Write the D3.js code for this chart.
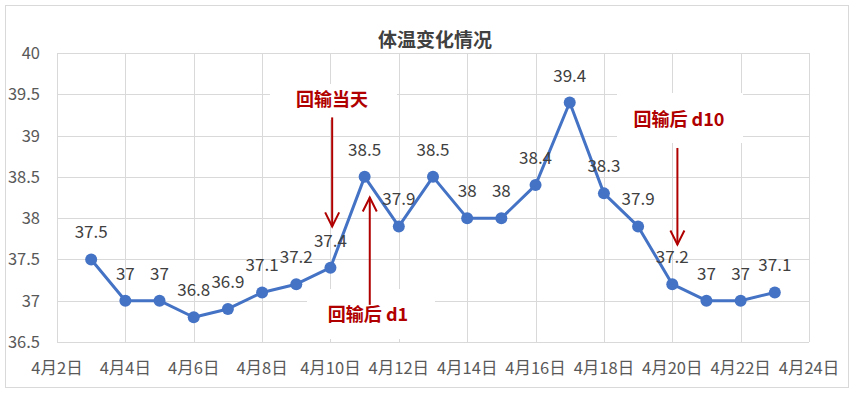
<!DOCTYPE html>
<html>
<head>
<meta charset="utf-8">
<script src="https://cdn.jsdelivr.net/npm/d3@7"></script>
<style>
  body { margin: 0; background: #fff; }
  text { font-family: "Noto Sans CJK SC", "Noto Sans", sans-serif; }
</style>
</head>
<body>
<script>
// data
var days = [3, 4, 5, 6, 7, 8, 9, 10, 11, 12, 13, 14, 15, 16, 17, 18, 19, 20, 21, 22, 23];
var temps = [37.5, 37, 37, 36.8, 36.9, 37.1, 37.2, 37.4, 38.5, 37.9, 38.5, 38, 38, 38.4, 39.4, 38.3, 37.9, 37.2, 37, 37, 37.1];
var xTicks = [2, 4, 6, 8, 10, 12, 14, 16, 18, 20, 22, 24];
var yTicks = [36.5, 37, 37.5, 38, 38.5, 39, 39.5, 40];
var notes = [
  { text: '回输当天', day: 10.05, from: 39.22, to: 37.9 },
  { text: '回输后 d1', day: 11.15, from: 36.95, to: 38.25 },
  { text: '回输后 d10', day: 20.15, from: 38.85, to: 37.68 }
];

var width = 859, height = 397;
var margin = { left: 57, right: 50, top: 53, bottom: 55 };

var svg = d3.select('body').append('svg')
  .attr('width', width)
  .attr('height', height);

// outer chart frame
svg.append('rect')
  .attr('x', 5.5).attr('y', 5.5)
  .attr('width', 843).attr('height', 382)
  .attr('fill', '#fff')
  .attr('stroke', '#d9d9d9');

var x = d3.scaleLinear().domain([2, 24]).range([margin.left, width - margin.right]);
var y = d3.scaleLinear().domain([36.5, 40]).range([height - margin.bottom, margin.top]);

// gridlines
var grid = svg.append('g').attr('stroke', '#d9d9d9').attr('stroke-width', 1);
grid.selectAll('.h').data(yTicks).enter().append('line')
  .attr('x1', x(2)).attr('x2', x(24))
  .attr('y1', function(d) { return Math.round(y(d)) + 0.5; })
  .attr('y2', function(d) { return Math.round(y(d)) + 0.5; });
grid.selectAll('.v').data(xTicks).enter().append('line')
  .attr('y1', y(36.5)).attr('y2', y(40))
  .attr('x1', function(d) { return Math.round(x(d)) + 0.5; })
  .attr('x2', function(d) { return Math.round(x(d)) + 0.5; });

// y axis labels
svg.append('g').selectAll('text').data(yTicks).enter().append('text')
  .attr('x', 40)
  .attr('y', function(d) { return y(d) + 6; })
  .attr('text-anchor', 'end')
  .attr('font-size', 16.5)
  .attr('fill', '#595959')
  .text(function(d) { return d; });

// x axis labels
svg.append('g').selectAll('text').data(xTicks).enter().append('text')
  .attr('x', function(d) { return x(d); })
  .attr('y', 374)
  .attr('text-anchor', 'middle')
  .attr('font-size', 16.5)
  .attr('fill', '#595959')
  .text(function(d) { return '4月' + d + '日'; });

// title
svg.append('text')
  .attr('x', 435).attr('y', 47)
  .attr('text-anchor', 'middle')
  .attr('font-size', 19)
  .attr('font-weight', 'bold')
  .attr('fill', '#404040')
  .text('体温变化情况');

// annotation boxes (white, they hide the grid)
var boxes = [
  { x: 270, y: 84, w: 127, h: 36 },
  { x: 307, y: 289, w: 128, h: 50 },
  { x: 617, y: 93, w: 126, h: 50 }
];
svg.append('g').selectAll('rect').data(boxes).enter().append('rect')
  .attr('x', function(d) { return d.x; })
  .attr('y', function(d) { return d.y; })
  .attr('width', function(d) { return d.w; })
  .attr('height', function(d) { return d.h; })
  .attr('fill', '#fff');

// line + markers
var line = d3.line()
  .x(function(d, i) { return x(days[i]); })
  .y(function(d) { return y(d); });

svg.append('path')
  .datum(temps)
  .attr('d', line)
  .attr('fill', 'none')
  .attr('stroke', '#4472c4')
  .attr('stroke-width', 3)
  .attr('stroke-linejoin', 'round');

svg.append('g').selectAll('circle').data(temps).enter().append('circle')
  .attr('cx', function(d, i) { return x(days[i]); })
  .attr('cy', function(d) { return y(d); })
  .attr('r', 6)
  .attr('fill', '#4472c4');

// value labels
svg.append('g').selectAll('text').data(temps).enter().append('text')
  .attr('x', function(d, i) { return x(days[i]); })
  .attr('y', function(d) { return y(d) - 21; })
  .attr('text-anchor', 'middle')
  .attr('font-size', 17)
  .attr('fill', '#404040')
  .text(function(d) { return d; });

// arrows
var red = '#b00000';
var arrows = svg.append('g').attr('stroke', red).attr('stroke-width', 2).attr('fill', 'none');
notes.forEach(function(n) {
  var px = x(n.day), y0 = y(n.from), y1 = y(n.to);
  var dir = y1 > y0 ? 1 : -1;
  arrows.append('line')
    .attr('x1', px).attr('x2', px)
    .attr('y1', y0).attr('y2', y1);
  arrows.append('path')
    .attr('d', 'M' + (px - 7) + ',' + (y1 - dir * 14) + 'L' + px + ',' + y1 + 'L' + (px + 7) + ',' + (y1 - dir * 14));
});

// annotation labels
var labelPos = [[332, 106], [368, 321], [679, 126]];
svg.append('g').selectAll('text').data(notes).enter().append('text')
  .attr('x', function(d, i) { return labelPos[i][0]; })
  .attr('y', function(d, i) { return labelPos[i][1]; })
  .attr('text-anchor', 'middle')
  .attr('font-size', 18)
  .attr('font-weight', 'bold')
  .attr('fill', red)
  .text(function(d) { return d.text; });
</script>
</body>
</html>
